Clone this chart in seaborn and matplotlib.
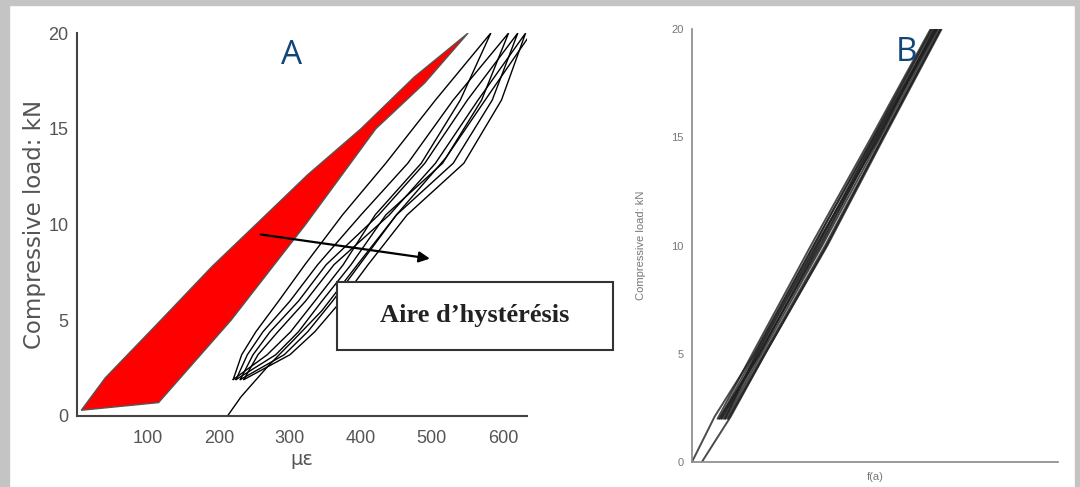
import matplotlib
matplotlib.use("Agg")
import matplotlib.pyplot as plt
import matplotlib.patches as mpatches
import pandas as pd
import seaborn as sns

# ---- panel A : first cycle (red hysteresis area) ----
red_x = [6, 40, 118, 190, 252, 325, 400, 475, 551,
         490, 421, 322, 217, 115]
red_y = [0.3, 2.0, 5.0, 7.8, 10.0, 12.6, 15.0, 17.7, 20.0,
         17.4, 15.0, 10.0, 5.0, 0.7]

# ---- panel A : following load cycles ----
load_y = [1.9, 3.2, 4.4, 6.0, 7.9, 10.5, 13.2, 16.5, 20.0]
load_x = [
    [220, 268, 301, 335, 375, 420, 485, 540, 583],
    [224, 280, 312, 345, 386, 435, 515, 570, 608],
    [230, 292, 325, 360, 398, 450, 530, 585, 621],
    [235, 300, 335, 372, 410, 465, 545, 598, 632],
]
unload_y = [20.0, 16.5, 13.2, 10.5, 7.9, 6.0, 4.4, 3.2, 1.9]
unload_x = [
    [583, 505, 435, 374, 321, 284, 252, 232, 220],
    [608, 530, 466, 400, 339, 300, 262, 240, 224],
    [621, 550, 490, 425, 351, 312, 272, 248, 230],
    [632, 565, 505, 440, 362, 322, 283, 255, 235],
]
last_x = [212, 231, 269, 306, 345, 395, 450, 520, 575, 640]
last_y = [0.0, 1.0, 2.6, 4.0, 5.5, 7.9, 10.5, 13.5, 16.5, 20.0]

a_xticks = [100, 200, 300, 400, 500, 600]
a_yticks = [0, 5, 10, 15, 20]

# ---- panel B : stable cycles ----
b_y = [2, 5, 10, 15, 20]
b_x = [
    [70, 165, 325, 490, 652],
    [76, 172, 333, 497, 658],
    [82, 178, 341, 503, 664],
    [87, 184, 348, 509, 668],
    [92, 190, 356, 515, 673],
    [97, 196, 364, 521, 678],
    [80, 182, 352, 506, 670],
    [90, 176, 338, 512, 662],
    [100, 200, 370, 525, 682],
    [74, 186, 344, 500, 666],
]
b_first_x = [0, 62, 170, 332, 495, 655]
b_first_y = [0, 2.1, 5, 10, 15, 20]
b_end_x = [27, 106, 200, 368, 522, 680]
b_end_y = [0, 2.1, 5, 10, 15, 20]
b_yticks = [0, 5, 10, 15, 20]

sns.set_style("white")
plt.rcParams["font.family"] = ["Liberation Sans Narrow", "Liberation Sans", "DejaVu Sans"]

grey = "#555555"

rows = []
for i, (lx, ux) in enumerate(zip(load_x, unload_x)):
    xs = lx + ux[1:]
    ys = load_y + unload_y[1:]
    for x, y in zip(xs, ys):
        rows.append({"curve": i, "strain": x, "load": y})
for x, y in zip(last_x, last_y):
    rows.append({"curve": 99, "strain": x, "load": y})
df_a = pd.DataFrame(rows)

rows = []
for i, xs in enumerate(b_x):
    for x, y in zip(xs, b_y):
        rows.append({"curve": i, "strain": x, "load": y})
for x, y in zip(b_first_x, b_first_y):
    rows.append({"curve": 50, "strain": x, "load": y})
for x, y in zip(b_end_x, b_end_y):
    rows.append({"curve": 51, "strain": x, "load": y})
df_b = pd.DataFrame(rows)

fig = plt.figure(figsize=(10.8, 4.87), dpi=100)
fig.patch.set_facecolor("white")

# grey scan border
for rect in [(0, 0.99, 1, 0.01), (0, 0, 0.008, 1), (0.995, 0, 0.005, 1)]:
    fig.patches.append(mpatches.Rectangle(rect[:2], rect[2], rect[3],
                                          transform=fig.transFigure,
                                          color="#c4c4c4", zorder=0))

# ---------------- panel A ----------------
ax = fig.add_axes([0.0713, 0.1458, 0.4167, 0.7864])
ax.fill(red_x, red_y, facecolor="#ff0000", edgecolor="#555555", lw=1.0, zorder=3)
sns.lineplot(data=df_a, x="strain", y="load", units="curve", estimator=None,
             sort=False, color="black", lw=1.0, ax=ax, zorder=2)
ax.set_xlim(0, 634)
ax.set_ylim(0, 20)
ax.set_xticks(a_xticks)
ax.set_yticks(a_yticks)
ax.set_xlabel("µε", fontsize=14, color=grey, family="DejaVu Sans", labelpad=2)
ax.set_ylabel("Compressive load: kN", fontsize=16.5, color=grey,
              family="DejaVu Sans", labelpad=2)
ax.tick_params(axis="x", direction="in", length=12, width=1.2, color="#444444",
               labelsize=13, labelcolor=grey, pad=10)
ax.tick_params(axis="y", direction="inout", length=10, width=1.2, color="#444444",
               labelsize=13, labelcolor=grey, pad=1)
for s in ["top", "right"]:
    ax.spines[s].set_visible(False)
for s in ["left", "bottom"]:
    ax.spines[s].set_color("#444444")
    ax.spines[s].set_linewidth(1.5)

ax.annotate("", xy=(501, 8.2), xytext=(255, 9.5),
            arrowprops=dict(arrowstyle="-|>", color="black", lw=1.6,
                            mutation_scale=16), zorder=6)
ax.text(0.2704, 0.887, "A", transform=fig.transFigure, ha="center", va="center",
        fontsize=24, color="#12467a", family="Open Sans")

ax.add_patch(mpatches.Rectangle((0.312, 0.2813), 0.2556, 0.1396,
                                transform=fig.transFigure, clip_on=False,
                                facecolor="white", edgecolor="#333333",
                                lw=1.5, zorder=8))
ax.text(0.4398, 0.353, "Aire d’hystérésis", transform=fig.transFigure,
        ha="center", va="center", fontsize=19, fontweight="bold",
        family="Liberation Serif", color="#222222", zorder=9)

# ---------------- panel B ----------------
bx = fig.add_axes([0.6407, 0.0513, 0.3389, 0.8891])
sns.lineplot(data=df_b, x="strain", y="load", units="curve", estimator=None,
             sort=False, color="#1e1e1e", lw=1.4, alpha=0.8, ax=bx)
bx.set_xlim(0, 1000)
bx.set_ylim(0, 20)
bx.set_xticks([500, 1000])
bx.set_xticklabels(["", ""])
bx.set_yticks(b_yticks)
bx.set_xlabel("f(a)", fontsize=8, color="#777777", labelpad=1)
bx.set_ylabel("Compressive load: kN", fontsize=8, color="#777777", labelpad=18)
bx.tick_params(axis="both", direction="in", length=10, width=1.0,
               color="#888888", labelsize=8, labelcolor="#777777", pad=6)
for s in ["top", "right"]:
    bx.spines[s].set_visible(False)
for s in ["left", "bottom"]:
    bx.spines[s].set_color("#888888")
    bx.spines[s].set_linewidth(1.2)
bx.text(0.8398, 0.893, "B", transform=fig.transFigure, ha="center", va="center",
        fontsize=24, color="#12467a", family="Open Sans")

fig.savefig("out.png", dpi=100, facecolor=fig.get_facecolor())
plt.close(fig)
